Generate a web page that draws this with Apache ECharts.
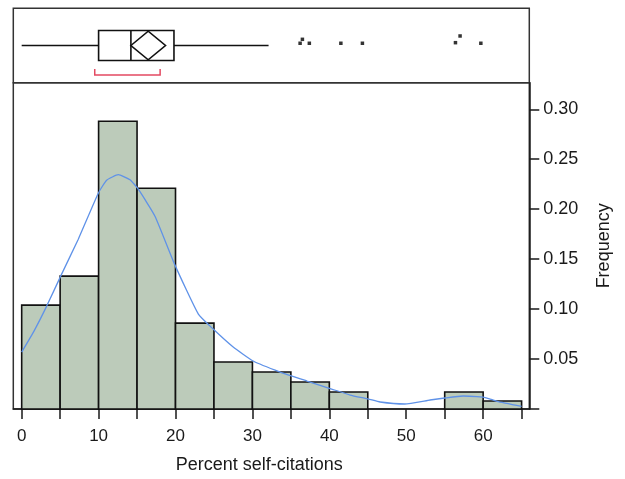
<!DOCTYPE html>
<html>
<head>
<meta charset="utf-8">
<script src="https://cdn.jsdelivr.net/npm/echarts@6/dist/echarts.min.js"></script>
<style>
html,body{margin:0;padding:0;background:#fff;}
#chart{width:625px;height:479px;}
</style>
</head>
<body>
<div id="chart"></div>
<script>
// ---------- data ----------
const binStart = [0, 5, 10, 15, 20, 25, 30, 35, 40, 45, 50, 55, 60];
const binWidth = 5;
const binFreq  = [0.104, 0.133, 0.288, 0.221, 0.086, 0.047, 0.037, 0.027, 0.017, 0, 0, 0.017, 0.008];

const densX = [0, 1.6, 3.25, 5.07, 7.36, 9.96, 11.05, 12.56, 14.08, 15.16, 17.33, 19.93, 22.97, 24.9, 27.5, 30.1, 33.6, 37.1, 40.3, 42.7, 45.07, 46.6, 49.8, 53.1, 55.0, 57.4, 59.2, 60.5, 61.8, 65.0];
const densY = [0.057, 0.078, 0.103, 0.133, 0.170, 0.216, 0.229, 0.2345, 0.2295, 0.220, 0.193, 0.144, 0.095, 0.080, 0.062, 0.048, 0.037, 0.028, 0.020, 0.014, 0.010, 0.007, 0.005, 0.009, 0.011, 0.013, 0.0123, 0.011, 0.0077, 0.0027];

// box plot summary: whisker low, Q1, median, Q3, whisker high
const boxFiveNum = [0, 10.0, 14.2, 19.8, 32.1];
// mean diamond: CI low, mean, CI high
const meanDiamond = [14.2, 16.45, 18.7];
// shortest half bracket
const shortestHalf = [9.5, 18.0];
// outliers (x value, vertical jitter position in panel 0..1)
const outlierX = [36.2, 36.5, 37.4, 41.5, 44.3, 56.4, 57.0, 59.7];
const outlierY = [0.53, 0.583, 0.53, 0.53, 0.53, 0.538, 0.628, 0.53];

const xTicks = [0, 5, 10, 15, 20, 25, 30, 35, 40, 45, 50, 55, 60, 65];
const xTickLabels = [0, 10, 20, 30, 40, 50, 60];
const yTicks = [0, 0.05, 0.10, 0.15, 0.20, 0.25, 0.30];
const yTickLabels = [0.05, 0.10, 0.15, 0.20, 0.25, 0.30];

const xTitle = 'Percent self-citations';
const yTitle = 'Frequency';

// ---------- chart ----------
const FONT = 'Liberation Sans';
const INK = '#1a1a1a';
const FRAME = '#333333';
const X_MIN = -1.09, X_MAX = 66.0;

const chart = echarts.init(document.getElementById('chart'), null, {renderer: 'canvas'});

const histData = binStart.map((s, i) => [s, s + binWidth, binFreq[i]]);
const densData = densX.map((x, i) => [x, densY[i]]);
const outlierData = outlierX.map((x, i) => [x, outlierY[i]]);
const boxData = [[...boxFiveNum, ...meanDiamond, ...shortestHalf]];

const option = {
  animation: false,
  backgroundColor: '#ffffff',
  grid: [
    {left: 13.3, right: 95.7, top: 8.3, height: 74.4, show: true, borderColor: FRAME, borderWidth: 1.5, backgroundColor: 'transparent'},
    {left: 13.3, right: 95.7, top: 82.7, height: 327.3, show: true, borderColor: FRAME, borderWidth: 1.5, backgroundColor: 'transparent'}
  ],
  xAxis: [
    {gridIndex: 0, type: 'value', min: X_MIN, max: X_MAX, show: false},
    {
      gridIndex: 1, type: 'value', min: X_MIN, max: X_MAX,
      name: xTitle, nameLocation: 'middle', nameGap: 47,
      nameTextStyle: {fontFamily: FONT, fontSize: 18, color: INK, padding: [0, 24, 0, 0]},
      axisLine: {show: true, onZero: false, lineStyle: {color: INK, width: 1.5}},
      axisTick: {show: true, inside: false, length: 10, lineStyle: {color: INK, width: 1.5}, customValues: xTicks},
      axisLabel: {show: true, margin: 19, fontFamily: FONT, fontSize: 17, color: INK, customValues: xTickLabels},
      splitLine: {show: false}
    }
  ],
  yAxis: [
    {gridIndex: 0, type: 'value', min: 0, max: 1, show: false},
    {
      gridIndex: 1, type: 'value', position: 'right', min: 0, max: 0.3266,
      name: yTitle, nameLocation: 'middle', nameGap: 66, nameRotate: 90,
      nameTextStyle: {fontFamily: FONT, fontSize: 18, color: INK},
      axisLine: {show: true, onZero: false, lineStyle: {color: INK, width: 1.5}},
      axisTick: {show: true, inside: false, length: 10, lineStyle: {color: INK, width: 1.5}, customValues: yTicks},
      axisLabel: {show: true, margin: 14, fontFamily: FONT, fontSize: 18, color: INK, customValues: yTickLabels,
        formatter: v => v.toFixed(2)},
      splitLine: {show: false}
    }
  ],
  series: [
    {
      type: 'custom', name: 'histogram', xAxisIndex: 1, yAxisIndex: 1,
      encode: {x: [0, 1], y: 2},
      data: histData,
      renderItem: function (params, api) {
        const f = api.value(2);
        if (!(f > 0)) return null;
        const p0 = api.coord([api.value(0), 0]);
        const p1 = api.coord([api.value(1), f]);
        return {
          type: 'rect',
          shape: {x: p0[0], y: p1[1], width: p1[0] - p0[0], height: p0[1] - p1[1]},
          style: {fill: '#bccbba', stroke: '#111111', lineWidth: 1.6}
        };
      },
      z: 2
    },
    {
      type: 'line', name: 'density', xAxisIndex: 1, yAxisIndex: 1,
      data: densData, symbol: 'none', smooth: 0.15,
      lineStyle: {color: '#5f92e8', width: 1.3},
      z: 3
    },
    {
      type: 'custom', name: 'boxplot', xAxisIndex: 0, yAxisIndex: 0,
      encode: {x: [0, 4], y: []},
      data: boxData,
      renderItem: function (params, api) {
        const v = i => api.value(i);
        const c = (x) => api.coord([x, 0.5]);
        const lo = c(v(0)), q1 = c(v(1)), med = c(v(2)), q3 = c(v(3)), hi = c(v(4));
        const ciL = c(v(5)), mu = c(v(6)), ciH = c(v(7));
        const shL = c(v(8)), shH = c(v(9));
        const cy = med[1];
        const hb = 15, hd = 14.3;
        const st = {stroke: '#111111', lineWidth: 1.6, fill: null};
        return {
          type: 'group',
          children: [
            {type: 'line', shape: {x1: lo[0], y1: cy, x2: q1[0], y2: cy}, style: st},
            {type: 'line', shape: {x1: q3[0], y1: cy, x2: hi[0], y2: cy}, style: st},
            {type: 'rect', shape: {x: q1[0], y: cy - hb, width: q3[0] - q1[0], height: 2 * hb}, style: {stroke: '#111111', lineWidth: 1.6, fill: '#ffffff'}},
            {type: 'line', shape: {x1: med[0], y1: cy - hb, x2: med[0], y2: cy + hb}, style: st},
            {type: 'polygon', shape: {points: [[ciL[0], cy], [mu[0], cy - hd], [ciH[0], cy], [mu[0], cy + hd]]}, style: st},
            {type: 'polyline', shape: {points: [[shL[0], cy + 23.5], [shL[0], cy + 29.5], [shH[0], cy + 29.5], [shH[0], cy + 23.5]]},
              style: {stroke: '#e34a62', lineWidth: 1.5, fill: null}}
          ]
        };
      },
      z: 3
    },
    {
      type: 'scatter', name: 'outliers', xAxisIndex: 0, yAxisIndex: 0,
      data: outlierData, symbol: 'rect', symbolSize: 3.5,
      itemStyle: {color: '#000000'},
      z: 4
    }
  ]
};
chart.setOption(option);
</script>
</body>
</html>
